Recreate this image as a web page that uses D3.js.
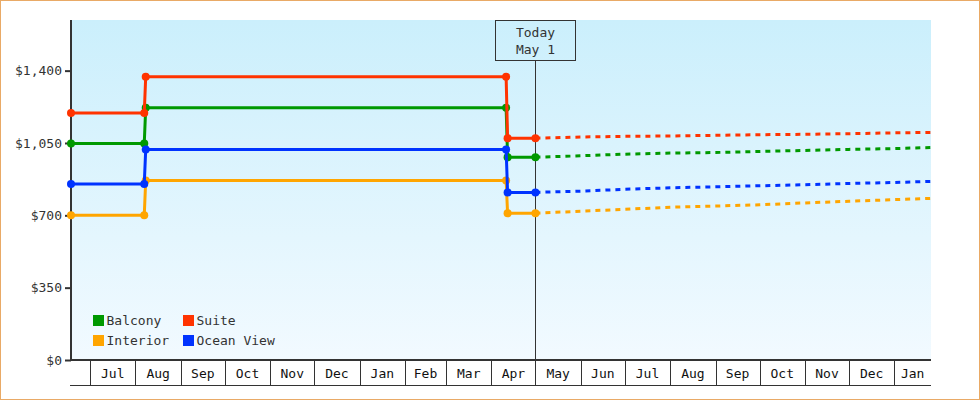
<!DOCTYPE html>
<html>
<head>
<meta charset="utf-8">
<script src="https://cdn.jsdelivr.net/npm/d3@7"></script>
<style>
  html, body { margin: 0; padding: 0; background: #fff; }
  svg { display: block; }
  text { font-family: "DejaVu Sans Mono", monospace; font-size: 13px; }
</style>
</head>
<body>
<svg id="chart" width="980" height="400"></svg>
<script>
// history: fares actually charged, one point per change
const history_dates = ["2022-06-18", "2022-08-07", "2022-08-08", "2023-04-11", "2023-04-12", "2023-05-01"];
const history_balcony = [1048, 1048, 1221, 1221, 981, 981];
const history_interior = [700, 700, 869, 869, 710, 710];
const history_ocean_view = [851, 851, 1019, 1019, 811, 811];
const history_suite = [1195, 1195, 1371, 1371, 1073, 1073];

// forecast from today onward
const forecast_dates = ["2023-05-01", "2023-06-01", "2023-07-01", "2023-08-01", "2023-09-01",
  "2023-10-01", "2023-11-01", "2023-12-01", "2024-01-01", "2024-01-26"];
const forecast_balcony = [981, 988, 996, 1001, 1004, 1009, 1014, 1019, 1023, 1028];
const forecast_interior = [710, 720, 729, 739, 745, 751, 760, 768, 776, 782];
const forecast_ocean_view = [811, 817, 826, 833, 838, 843, 848, 854, 859, 864];
const forecast_suite = [1073, 1079, 1082, 1084, 1087, 1090, 1092, 1095, 1099, 1101];

const series_names = ["Balcony", "Interior", "Ocean View", "Suite"];
const series_colors = ["#009900", "#ffa500", "#0033ff", "#ff3300"];
const y_ticks = [0, 350, 700, 1050, 1400];
const y_max = 1645;
const date_start = "2022-06-18";
const date_end = "2024-01-26";
const today = "2023-05-01";
const today_label = ["Today", "May 1"];
const legend_order = ["Balcony", "Suite", "Interior", "Ocean View"];

const parse = d3.utcParse("%Y-%m-%d");
const history_values = [history_balcony, history_interior, history_ocean_view, history_suite];
const forecast_values = [forecast_balcony, forecast_interior, forecast_ocean_view, forecast_suite];

const series = series_names.map((name, i) => ({
  name: name,
  color: series_colors[i],
  history: history_dates.map((d, j) => ({ date: parse(d), value: history_values[i][j] })),
  forecast: forecast_dates.map((d, j) => ({ date: parse(d), value: forecast_values[i][j] }))
}));

const plot = { left: 71, right: 931, top: 20, bottom: 360 };

const svg = d3.select("#chart");

const x = d3.scaleUtc()
  .domain([parse(date_start), parse(date_end)])
  .range([plot.left, plot.right]);
const y = d3.scaleLinear()
  .domain([0, y_max])
  .range([plot.bottom, plot.top]);

// background + frame
const grad = svg.append("defs").append("linearGradient")
  .attr("id", "bg_grad")
  .attr("x1", 0).attr("y1", 0).attr("x2", 0).attr("y2", 1);
grad.append("stop").attr("offset", "0%").attr("stop-color", "#cbeffc");
grad.append("stop").attr("offset", "100%").attr("stop-color", "#f2faff");

svg.append("rect")
  .attr("x", 0.5).attr("y", 0.5).attr("width", 979).attr("height", 399)
  .attr("fill", "#fff").attr("stroke", "#e9aa66");

svg.append("rect")
  .attr("x", plot.left).attr("y", plot.top)
  .attr("width", plot.right - plot.left).attr("height", plot.bottom - plot.top)
  .attr("fill", "url(#bg_grad)");

// y axis
const y_axis = svg.append("g")
  .attr("transform", `translate(${plot.left},0)`)
  .call(d3.axisLeft(y).tickValues(y_ticks).tickFormat(d3.format("$,")).tickSize(6).tickSizeOuter(0));
y_axis.select(".domain").remove();
y_axis.selectAll(".tick line").attr("stroke", "#333").attr("stroke-width", 2);
y_axis.selectAll(".tick text")
  .attr("x", -9)
  .attr("fill", "#333")
  .style("font-family", "DejaVu Sans Mono, monospace")
  .style("font-size", "13px");
svg.append("line")
  .attr("x1", plot.left).attr("x2", plot.left)
  .attr("y1", plot.top).attr("y2", plot.bottom + 1)
  .attr("stroke", "#333").attr("stroke-width", 2);

// x axis: month bands with separators
const axis_h = 25;
const months = x.ticks(d3.utcMonth.every(1));
const x_axis = svg.append("g").attr("class", "x_axis");
x_axis.append("line")
  .attr("x1", plot.left - 1).attr("x2", plot.right)
  .attr("y1", plot.bottom).attr("y2", plot.bottom)
  .attr("stroke", "#333").attr("stroke-width", 2);
x_axis.append("line")
  .attr("x1", plot.left - 1).attr("x2", plot.right)
  .attr("y1", plot.bottom + axis_h + 0.5).attr("y2", plot.bottom + axis_h + 0.5)
  .attr("stroke", "#333").attr("stroke-width", 1);
x_axis.selectAll("line.sep")
  .data(months)
  .join("line")
  .attr("class", "sep")
  .attr("x1", (d) => Math.round(x(d)) + 0.5)
  .attr("x2", (d) => Math.round(x(d)) + 0.5)
  .attr("y1", plot.bottom)
  .attr("y2", plot.bottom + axis_h)
  .attr("stroke", "#333").attr("stroke-width", 1);

const bands = [parse(date_start)].concat(months).map((d, i, arr) => ({
  start: d,
  end: i < arr.length - 1 ? arr[i + 1] : parse(date_end)
}));
x_axis.selectAll("text")
  .data(bands.filter((b) => x(b.end) - x(b.start) > 30))
  .join("text")
  .attr("x", (b) => (x(b.start) + x(b.end)) / 2)
  .attr("y", plot.bottom + 18)
  .attr("text-anchor", "middle")
  .attr("fill", "#111")
  .text((b) => d3.utcFormat("%b")(b.start));

// today marker
const tx = Math.round(x(parse(today))) + 0.5;
svg.append("line")
  .attr("x1", tx).attr("x2", tx)
  .attr("y1", 60).attr("y2", plot.bottom)
  .attr("stroke", "#333").attr("stroke-width", 1);
svg.append("rect")
  .attr("x", tx - 40).attr("y", plot.top + 0.5)
  .attr("width", 80).attr("height", 40)
  .attr("fill", "none").attr("stroke", "#333");
svg.selectAll("text.today")
  .data(today_label)
  .join("text")
  .attr("class", "today")
  .attr("x", tx)
  .attr("y", (d, i) => 37 + i * 17)
  .attr("text-anchor", "middle")
  .attr("fill", "#333")
  .text((d) => d);

// lines
const line = d3.line()
  .x((d) => x(d.date))
  .y((d) => y(d.value));

const groups = svg.selectAll("g.series")
  .data(series)
  .join("g")
  .attr("class", "series");

groups.append("path")
  .attr("d", (d) => line(d.forecast))
  .attr("fill", "none")
  .attr("stroke", (d) => d.color)
  .attr("stroke-width", 3)
  .attr("stroke-dasharray", "5,5");

groups.append("path")
  .attr("d", (d) => line(d.history))
  .attr("fill", "none")
  .attr("stroke", (d) => d.color)
  .attr("stroke-width", 3)
  .attr("stroke-linejoin", "round");

groups.each(function (s) {
  d3.select(this)
    .selectAll("circle")
    .data(s.history)
    .join("circle")
    .attr("cx", (d) => x(d.date))
    .attr("cy", (d) => y(d.value))
    .attr("r", 4)
    .attr("fill", s.color);
});

// legend
const legend = svg.append("g").attr("class", "legend");
const legend_items = legend.selectAll("g")
  .data(legend_order.map((name) => series.find((s) => s.name === name)))
  .join("g")
  .attr("transform", (d, i) => `translate(${93 + (i % 2) * 90},${315 + Math.floor(i / 2) * 20})`);
legend_items.append("rect")
  .attr("width", 11).attr("height", 11)
  .attr("fill", (d) => d.color);
legend_items.append("text")
  .attr("x", 13.5).attr("y", 10)
  .attr("fill", "#333")
  .text((d) => d.name);
</script>
</body>
</html>
